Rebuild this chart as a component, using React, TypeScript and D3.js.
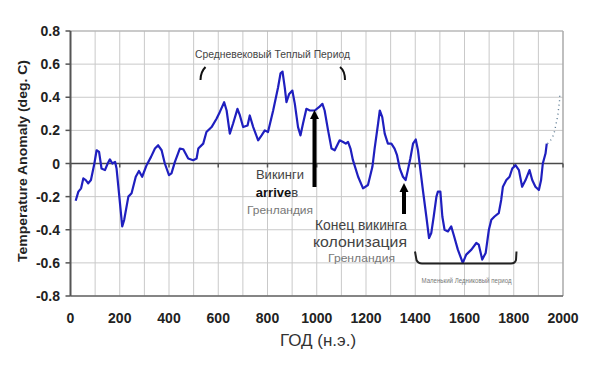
import React from "react";
import * as d3 from "d3";

const years = [21, 32, 43, 52, 62, 72, 83, 97, 106, 116, 126, 140, 151, 160, 170, 181, 187, 197, 210, 218, 235, 248, 265, 278, 291, 309, 327, 343, 356, 370, 383, 400, 410, 424, 444, 458, 478, 498, 512, 519, 539, 552, 573, 593, 606, 624, 634, 647, 660, 678, 688, 701, 719, 728, 742, 762, 776, 789, 802, 823, 843, 853, 861, 870, 877, 888, 901, 911, 924, 934, 944, 958, 972, 992, 1009, 1023, 1032, 1046, 1060, 1073, 1093, 1107, 1118, 1127, 1137, 1147, 1168, 1188, 1208, 1226, 1235, 1249, 1256, 1266, 1276, 1289, 1303, 1316, 1326, 1337, 1350, 1361, 1370, 1380, 1391, 1402, 1411, 1421, 1431, 1445, 1456, 1465, 1475, 1486, 1492, 1502, 1510, 1519, 1533, 1546, 1556, 1573, 1593, 1607, 1628, 1648, 1658, 1672, 1686, 1699, 1709, 1722, 1739, 1749, 1756, 1770, 1783, 1794, 1807, 1821, 1834, 1848, 1864, 1875, 1888, 1902, 1911, 1918, 1929, 1934];
const anomaly = [-0.225, -0.17, -0.15, -0.09, -0.1, -0.12, -0.1, 0, 0.08, 0.07, -0.03, -0.04, 0, 0.025, 0, 0.01, -0.03, -0.18, -0.38, -0.34, -0.2, -0.18, -0.08, -0.045, -0.08, -0.01, 0.04, 0.09, 0.11, 0.08, 0, -0.07, -0.06, 0.01, 0.09, 0.086, 0.03, 0.02, 0.03, 0.09, 0.12, 0.19, 0.22, 0.27, 0.31, 0.37, 0.32, 0.18, 0.24, 0.33, 0.29, 0.22, 0.23, 0.29, 0.22, 0.14, 0.17, 0.2, 0.19, 0.32, 0.46, 0.545, 0.555, 0.46, 0.37, 0.42, 0.44, 0.36, 0.22, 0.17, 0.24, 0.33, 0.32, 0.32, 0.34, 0.36, 0.32, 0.2, 0.09, 0.08, 0.14, 0.13, 0.12, 0.13, 0.09, 0.02, -0.08, -0.15, -0.13, -0.02, 0.09, 0.24, 0.32, 0.28, 0.18, 0.12, 0.12, 0.09, 0.05, -0.03, -0.08, -0.1, -0.04, 0.03, 0.12, 0.145, 0.08, -0.04, -0.16, -0.32, -0.45, -0.42, -0.32, -0.2, -0.17, -0.17, -0.32, -0.4, -0.41, -0.38, -0.43, -0.52, -0.6, -0.55, -0.52, -0.48, -0.49, -0.58, -0.54, -0.4, -0.34, -0.32, -0.3, -0.22, -0.14, -0.1, -0.08, -0.03, -0.01, -0.04, -0.14, -0.1, -0.04, -0.1, -0.14, -0.16, -0.1, 0, 0.06, 0.12];

const dottedYears = [1937, 1945, 1958, 1965, 1972, 1979, 1982, 1986, 1987];
const dottedValues = [0.12, 0.13, 0.16, 0.19, 0.24, 0.29, 0.33, 0.38, 0.42];

const xTicks = [0, 200, 400, 600, 800, 1000, 1200, 1400, 1600, 1800, 2000];
const yTicks = [-0.8, -0.6, -0.4, -0.2, 0, 0.2, 0.4, 0.6, 0.8];
const xGrid = d3.range(0, 2001, 100);

const FONT = "'Liberation Sans', Arial, sans-serif";

export default function App() {
  const x = d3.scaleLinear().domain([0, 2000]).range([70.5, 563]);
  const y = d3.scaleLinear().domain([-0.8, 0.8]).range([296, 31]);

  const pts: [number, number][] = years.map((yr, i) => [yr, anomaly[i]]);
  const dpts: [number, number][] = dottedYears.map((yr, i) => [yr, dottedValues[i]]);
  const line = d3
    .line<[number, number]>()
    .x((d) => x(d[0]))
    .y((d) => y(d[1]));

  const x0 = x(0);
  const x1 = x(2000);
  const yTop = y(0.8);
  const yBot = y(-0.8);
  const yZero = y(0);

  return (
    <svg
      width={591}
      height={376}
      style={{ position: "absolute", left: 0, top: 0, background: "#fff" }}
      fontFamily={FONT}
    >
      <rect x={0} y={0} width={591} height={376} fill="#fff" />
      {/* grid */}
      {xGrid.map((t) => (
        <line key={"gx" + t} x1={x(t)} x2={x(t)} y1={yTop} y2={yBot} stroke="#c9c9c9" strokeWidth={1} />
      ))}
      {yTicks.map((t) => (
        <line key={"gy" + t} x1={x0} x2={x1} y1={y(t)} y2={y(t)} stroke="#c9c9c9" strokeWidth={1} />
      ))}
      {/* borders */}
      <line x1={x1} x2={x1} y1={yTop} y2={yBot} stroke="#9a9a9a" strokeWidth={1} />
      <line x1={x0} x2={x1} y1={yTop} y2={yTop} stroke="#b0b0b0" strokeWidth={1} />
      <line x1={x0} x2={x1} y1={yBot} y2={yBot} stroke="#666" strokeWidth={1.5} />
      <line x1={x0} x2={x1} y1={yZero} y2={yZero} stroke="#4a4a4a" strokeWidth={1.5} />
      <line x1={x0} x2={x0} y1={yTop} y2={yBot} stroke="#555" strokeWidth={2} />
      {/* y ticks */}
      {yTicks.map((t) => (
        <line key={"ty" + t} x1={x0 - 5} x2={x0} y1={y(t)} y2={y(t)} stroke="#555" strokeWidth={1.5} />
      ))}
      {xTicks.map((t) => (
        <line key={"tx" + t} x1={x(t)} x2={x(t)} y1={yZero} y2={yZero + 4} stroke="#555" strokeWidth={1.5} />
      ))}
      {/* tick labels */}
      {yTicks.map((t) => (
        <text
          key={"ly" + t}
          x={60}
          y={y(t)}
          dy="0.36em"
          textAnchor="end"
          fontSize={14}
          fontWeight="bold"
          fill="#222"
        >
          {t === 0 ? "0" : t.toFixed(1)}
        </text>
      ))}
      {xTicks.map((t) => (
        <text
          key={"lx" + t}
          x={x(t)}
          y={322.5}
          textAnchor="middle"
          fontSize={14}
          fontWeight="bold"
          fill="#222"
        >
          {t}
        </text>
      ))}
      {/* axis titles */}
      <text
        transform={`translate(27, 161) rotate(-90)`}
        textAnchor="middle"
        fontSize={12.5}
        fontWeight="bold"
        fill="#222"
        textLength={202}
        lengthAdjust="spacingAndGlyphs"
      >
        Temperature Anomaly (deg. C)
      </text>
      <text x={318} y={346} textAnchor="middle" fontSize={17} fill="#333">
        ГОД (н.э.)
      </text>

      {/* data */}
      <path d={line(dpts) || ""} fill="none" stroke="#5a7890" strokeWidth={1.4} strokeDasharray="1 3.5" />
      <path d={line(pts) || ""} fill="none" stroke="#1f1fbf" strokeWidth={2.2} strokeLinejoin="round" />

      {/* Medieval warm period */}
      <text x={272.5} y={58} textAnchor="middle" fontSize={11.5} fill="#444" textLength={155} lengthAdjust="spacingAndGlyphs">
        Средневековый Теплый Период
      </text>
      <path d="M205.5,67 Q200.5,72 200.5,80" fill="none" stroke="#111" strokeWidth={2} />
      <path d="M340,67 Q345,71 345,80" fill="none" stroke="#111" strokeWidth={2} />

      {/* Vikings arrive arrow */}
      <line x1={314.5} x2={314.5} y1={117} y2={187} stroke="#000" strokeWidth={4} />
      <path d="M314.5,110 L319,119 L310,119 Z" fill="#000" />
      <text x={280} y={179} textAnchor="middle" fontSize={13} fill="#444">
        Викинги
      </text>
      <text x={277} y={196.5} textAnchor="middle" fontSize={13}>
        <tspan fontWeight="bold" fill="#111">arrive</tspan>
        <tspan fill="#444">в</tspan>
      </text>
      <text x={280} y={214} textAnchor="middle" fontSize={11.5} fill="#777" textLength={66} lengthAdjust="spacingAndGlyphs">
        Гренландия
      </text>

      {/* End of vikings arrow */}
      <line x1={404} x2={404} y1={190} y2={214} stroke="#000" strokeWidth={4} />
      <path d="M404,183 L408.5,192 L399.5,192 Z" fill="#000" />
      <text x={361} y={230} textAnchor="middle" fontSize={14} fill="#444" textLength={92} lengthAdjust="spacingAndGlyphs">
        Конец викинга
      </text>
      <text x={360} y={246.5} textAnchor="middle" fontSize={14} fill="#444" textLength={94} lengthAdjust="spacingAndGlyphs">
        колонизация
      </text>
      <text x={361.5} y={261.5} textAnchor="middle" fontSize={11.5} fill="#777" textLength={67} lengthAdjust="spacingAndGlyphs">
        Гренландия
      </text>

      {/* Little ice age bracket */}
      <path
        d="M415,251.5 L416.5,260 Q418,263.5 422,263.5 L511,263.5 Q515,263.5 516,260 L516.5,251.5"
        fill="none"
        stroke="#222"
        strokeWidth={2}
      />
      <text x={466.5} y={283} textAnchor="middle" fontSize={7} fill="#777" textLength={90} lengthAdjust="spacingAndGlyphs">
        Маленький Ледниковый период
      </text>
    </svg>
  );
}
